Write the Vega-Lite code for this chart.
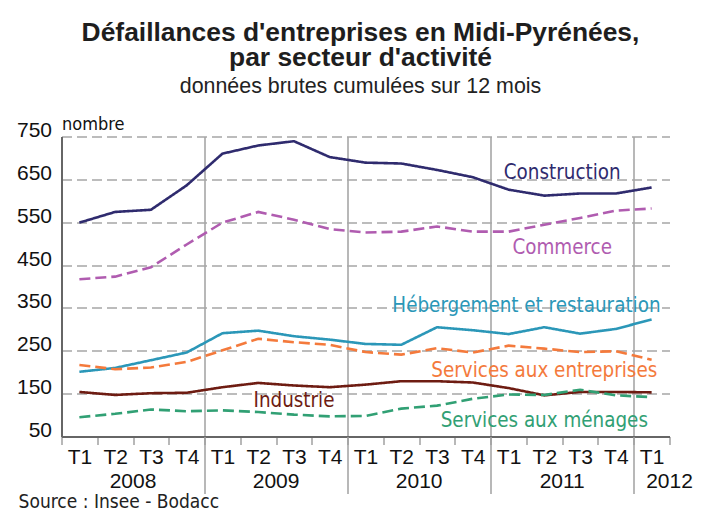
{
  "$schema": "https://vega.github.io/schema/vega-lite/v6.json",
  "width": 608,
  "height": 300,
  "padding": {"left": 15.5, "top": 19.5, "right": 5, "bottom": 0},
  "background": "white",
  "config": {"view": {"stroke": null}},
  "title": {
    "text": ["Défaillances d'entreprises en Midi-Pyrénées,", "par secteur d'activité"],
    "subtitle": "données brutes cumulées sur 12 mois",
    "font": "Liberation Sans", "fontSize": 26.4, "fontWeight": "bold", "color": "#1e1e1e", "lineHeight": 25,
    "subtitleFont": "Liberation Sans", "subtitleFontSize": 21.4, "subtitleColor": "#222", "subtitlePadding": 4,
    "anchor": "middle", "frame": "group", "dx": -5, "offset": 18
  },
  "datasets": {
    "series": [
      {"q":"2008-T1","s":"Construction","v":549},{"q":"2008-T2","s":"Construction","v":574},{"q":"2008-T3","s":"Construction","v":579},{"q":"2008-T4","s":"Construction","v":636},
      {"q":"2009-T1","s":"Construction","v":710},{"q":"2009-T2","s":"Construction","v":729},{"q":"2009-T3","s":"Construction","v":739},{"q":"2009-T4","s":"Construction","v":702},
      {"q":"2010-T1","s":"Construction","v":689},{"q":"2010-T2","s":"Construction","v":687},{"q":"2010-T3","s":"Construction","v":672},{"q":"2010-T4","s":"Construction","v":655},
      {"q":"2011-T1","s":"Construction","v":626},{"q":"2011-T2","s":"Construction","v":612},{"q":"2011-T3","s":"Construction","v":617},{"q":"2011-T4","s":"Construction","v":617},
      {"q":"2012-T1","s":"Construction","v":631},
      {"q":"2008-T1","s":"Commerce","v":417},{"q":"2008-T2","s":"Commerce","v":423},{"q":"2008-T3","s":"Commerce","v":445},{"q":"2008-T4","s":"Commerce","v":498},
      {"q":"2009-T1","s":"Commerce","v":549},{"q":"2009-T2","s":"Commerce","v":574},{"q":"2009-T3","s":"Commerce","v":556},{"q":"2009-T4","s":"Commerce","v":534},
      {"q":"2010-T1","s":"Commerce","v":526},{"q":"2010-T2","s":"Commerce","v":528},{"q":"2010-T3","s":"Commerce","v":540},{"q":"2010-T4","s":"Commerce","v":528},
      {"q":"2011-T1","s":"Commerce","v":528},{"q":"2011-T2","s":"Commerce","v":544},{"q":"2011-T3","s":"Commerce","v":560},{"q":"2011-T4","s":"Commerce","v":577},
      {"q":"2012-T1","s":"Commerce","v":582},
      {"q":"2008-T1","s":"Hébergement et restauration","v":201},{"q":"2008-T2","s":"Hébergement et restauration","v":210},{"q":"2008-T3","s":"Hébergement et restauration","v":228},{"q":"2008-T4","s":"Hébergement et restauration","v":246},
      {"q":"2009-T1","s":"Hébergement et restauration","v":291},{"q":"2009-T2","s":"Hébergement et restauration","v":297},{"q":"2009-T3","s":"Hébergement et restauration","v":284},{"q":"2009-T4","s":"Hébergement et restauration","v":276},
      {"q":"2010-T1","s":"Hébergement et restauration","v":266},{"q":"2010-T2","s":"Hébergement et restauration","v":264},{"q":"2010-T3","s":"Hébergement et restauration","v":305},{"q":"2010-T4","s":"Hébergement et restauration","v":298},
      {"q":"2011-T1","s":"Hébergement et restauration","v":289},{"q":"2011-T2","s":"Hébergement et restauration","v":305},{"q":"2011-T3","s":"Hébergement et restauration","v":290},{"q":"2011-T4","s":"Hébergement et restauration","v":301},
      {"q":"2012-T1","s":"Hébergement et restauration","v":323},
      {"q":"2008-T1","s":"Services aux entreprises","v":217},{"q":"2008-T2","s":"Services aux entreprises","v":207},{"q":"2008-T3","s":"Services aux entreprises","v":211},{"q":"2008-T4","s":"Services aux entreprises","v":224},
      {"q":"2009-T1","s":"Services aux entreprises","v":251},{"q":"2009-T2","s":"Services aux entreprises","v":278},{"q":"2009-T3","s":"Services aux entreprises","v":270},{"q":"2009-T4","s":"Services aux entreprises","v":264},
      {"q":"2010-T1","s":"Services aux entreprises","v":247},{"q":"2010-T2","s":"Services aux entreprises","v":241},{"q":"2010-T3","s":"Services aux entreprises","v":256},{"q":"2010-T4","s":"Services aux entreprises","v":246},
      {"q":"2011-T1","s":"Services aux entreprises","v":262},{"q":"2011-T2","s":"Services aux entreprises","v":255},{"q":"2011-T3","s":"Services aux entreprises","v":247},{"q":"2011-T4","s":"Services aux entreprises","v":249},
      {"q":"2012-T1","s":"Services aux entreprises","v":229},
      {"q":"2008-T1","s":"Industrie","v":154},{"q":"2008-T2","s":"Industrie","v":147},{"q":"2008-T3","s":"Industrie","v":151},{"q":"2008-T4","s":"Industrie","v":152},
      {"q":"2009-T1","s":"Industrie","v":165},{"q":"2009-T2","s":"Industrie","v":175},{"q":"2009-T3","s":"Industrie","v":169},{"q":"2009-T4","s":"Industrie","v":165},
      {"q":"2010-T1","s":"Industrie","v":171},{"q":"2010-T2","s":"Industrie","v":179},{"q":"2010-T3","s":"Industrie","v":179},{"q":"2010-T4","s":"Industrie","v":176},
      {"q":"2011-T1","s":"Industrie","v":163},{"q":"2011-T2","s":"Industrie","v":146},{"q":"2011-T3","s":"Industrie","v":154},{"q":"2011-T4","s":"Industrie","v":154},
      {"q":"2012-T1","s":"Industrie","v":153},
      {"q":"2008-T1","s":"Services aux ménages","v":95},{"q":"2008-T2","s":"Services aux ménages","v":103},{"q":"2008-T3","s":"Services aux ménages","v":113},{"q":"2008-T4","s":"Services aux ménages","v":109},
      {"q":"2009-T1","s":"Services aux ménages","v":111},{"q":"2009-T2","s":"Services aux ménages","v":107},{"q":"2009-T3","s":"Services aux ménages","v":101},{"q":"2009-T4","s":"Services aux ménages","v":97},
      {"q":"2010-T1","s":"Services aux ménages","v":98},{"q":"2010-T2","s":"Services aux ménages","v":115},{"q":"2010-T3","s":"Services aux ménages","v":122},{"q":"2010-T4","s":"Services aux ménages","v":138},
      {"q":"2011-T1","s":"Services aux ménages","v":148},{"q":"2011-T2","s":"Services aux ménages","v":147},{"q":"2011-T3","s":"Services aux ménages","v":159},{"q":"2011-T4","s":"Services aux ménages","v":146},
      {"q":"2012-T1","s":"Services aux ménages","v":142}
    ],
    "labelsEdge": [
      {"s":"Construction","q":"2011-T3","v":652},
      {"s":"Commerce","q":"2011-T3","v":475},
      {"s":"Hébergement et restauration","q":"2011-T2","v":340}
    ],
    "labelsMid": [
      {"s":"Services aux entreprises","q":"2011-T2","v":190},
      {"s":"Industrie","q":"2009-T3","v":120},
      {"s":"Services aux ménages","q":"2011-T2","v":73}
    ]
  },
  "resolve": {"axis": {"x": "independent"}},
  "layer": [
    {
      "data": {"name": "series"},
      "mark": {"type": "line", "strokeWidth": 2.6, "strokeCap": "butt"},
      "encoding": {
        "x": {
          "field": "q", "type": "ordinal",
          "scale": {"type": "band", "paddingInner": 0, "paddingOuter": 0,
            "domain": ["2008-T1","2008-T2","2008-T3","2008-T4","2009-T1","2009-T2","2009-T3","2009-T4","2010-T1","2010-T2","2010-T3","2010-T4","2011-T1","2011-T2","2011-T3","2011-T4","2012-T1"]},
          "axis": {
            "orient": "bottom", "labelExpr": "split(datum.value,'-')[1]", "tickBand": "extent",
            "ticks": true, "tickSize": 8, "tickColor": "#a0a0a0", "tickWidth": 1.5,
            "domain": true, "domainColor": "#666", "domainWidth": 2, "grid": false,
            "labelFont": "Liberation Sans", "labelFontSize": 21, "labelColor": "#111",
            "labelBaseline": "alphabetic", "labelPadding": 19, "labelAngle": 0,
            "title": "Source : Insee - Bodacc", "titleX": -43.4, "titleY": 71, "titleAlign": "left",
            "titleBaseline": "alphabetic", "titleFont": "DejaVu Sans Condensed, DejaVu Sans", "titleFontSize": 19,
            "titleFontWeight": "normal", "titleColor": "#222"
          }
        },
        "y": {
          "field": "v", "type": "quantitative",
          "scale": {"domain": [50, 750], "nice": false, "zero": false},
          "axis": {
            "values": [50,150,250,350,450,550,650,750],
            "grid": true, "gridDash": [10,5], "gridColor": "#a6a6a6", "gridWidth": 1.5,
            "ticks": false, "domain": true, "domainColor": "#666", "domainWidth": 2,
            "labelFont": "Liberation Sans", "labelFontSize": 21, "labelColor": "#111",
            "labelBaseline": "alphabetic", "labelPadding": 10,
            "title": "nombre", "titleAngle": 0, "titleAlign": "left", "titleX": 0, "titleY": -7.5,
            "titleBaseline": "alphabetic", "titleFont": "DejaVu Sans Condensed, DejaVu Sans", "titleFontSize": 18,
            "titleFontWeight": "normal", "titleColor": "#111"
          }
        },
        "color": {
          "field": "s", "type": "nominal", "legend": null,
          "scale": {"domain": ["Construction","Commerce","Hébergement et restauration","Services aux entreprises","Industrie","Services aux ménages"],
                    "range": ["#2f2b6e","#b05cb0","#2b97b8","#f47a3c","#6e1c12","#31a074"]}
        },
        "strokeDash": {
          "field": "s", "type": "nominal", "legend": null,
          "scale": {"domain": ["Construction","Commerce","Hébergement et restauration","Services aux entreprises","Industrie","Services aux ménages"],
                    "range": [[1,0],[11,5],[1,0],[11,5],[1,0],[11,5]]}
        }
      }
    },
    {
      "data": {"name": "labelsEdge"},
      "mark": {"type": "text", "align": "center", "baseline": "alphabetic", "font": "DejaVu Sans Condensed, DejaVu Sans", "fontSize": 20.4},
      "encoding": {
        "x": {
          "field": "q", "type": "ordinal", "bandPosition": 0,
          "axis": {
            "orient": "bottom", "values": ["2009-T1","2010-T1","2011-T1","2012-T1"], "bandPosition": 0, "tickExtra": false,
            "grid": true, "gridColor": "#a0a0a0", "gridWidth": 1.5, "gridDash": [],
            "ticks": true, "tickSize": 57, "tickColor": "#a0a0a0", "tickWidth": 1.5,
            "labels": false, "domain": false, "title": null
          }
        },
        "y": {"field": "v", "type": "quantitative"},
        "text": {"field": "s"},
        "color": {"field": "s", "type": "nominal", "legend": null}
      }
    },
    {
      "data": {"name": "labelsMid"},
      "mark": {"type": "text", "align": "center", "baseline": "alphabetic", "font": "DejaVu Sans Condensed, DejaVu Sans", "fontSize": 20.4},
      "encoding": {
        "x": {
          "field": "q", "type": "ordinal",
          "axis": {
            "orient": "bottom", "values": ["2008-T2","2009-T2","2010-T2","2011-T2","2012-T1"],
            "labelExpr": "split(datum.value,'-')[0]", "labelOffset": 17.9,
            "ticks": false, "domain": false, "grid": false, "labelPadding": 50.7, "labelBaseline": "alphabetic",
            "labelFont": "Liberation Sans", "labelFontSize": 21, "labelColor": "#111",
            "labelAngle": 0, "title": null
          }
        },
        "y": {"field": "v", "type": "quantitative"},
        "text": {"field": "s"},
        "color": {"field": "s", "type": "nominal", "legend": null}
      }
    }
  ]
}
